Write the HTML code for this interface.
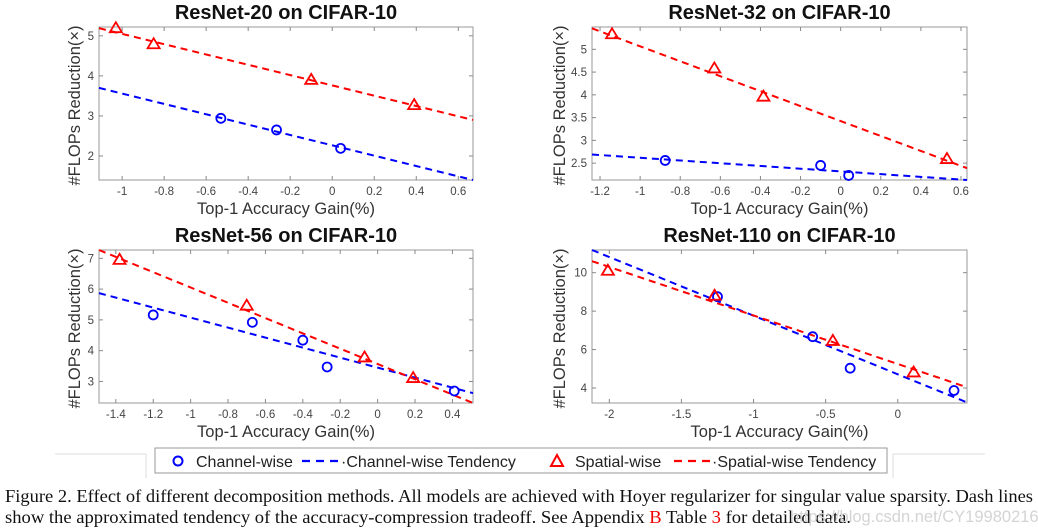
<!DOCTYPE html>
<html><head><meta charset="utf-8"><style>
html,body{margin:0;padding:0;background:#fff;}
svg{display:block;font-family:"Liberation Sans",sans-serif;}
</style></head><body>
<svg id="fig" width="1038" height="532" viewBox="0 0 1038 532" xmlns="http://www.w3.org/2000/svg">
<g id="plots"></g>
<g>
<line x1="55" y1="454" x2="146" y2="454" stroke="#ddd"/><line x1="146" y1="454" x2="146" y2="478" stroke="#ddd"/>
<line x1="893" y1="454" x2="985" y2="454" stroke="#ddd"/><line x1="893" y1="454" x2="893" y2="478" stroke="#ddd"/>
<rect x="155" y="448" width="732" height="25" fill="#fff" stroke="#999" stroke-width="1"/>
<circle cx="178" cy="461" r="4.5" fill="none" stroke="#0000ff" stroke-width="2"/>
<text x="196" y="467" font-size="16" fill="#222">Channel-wise</text>
<line x1="302" y1="461" x2="338" y2="461" stroke="#0000ff" stroke-width="2.2" stroke-dasharray="8,6"/>
<text x="341" y="467" font-size="16" fill="#222">·Channel-wise Tendency</text>
<path d="M557,455 L563,466 L551,466 Z" fill="none" stroke="#ff0000" stroke-width="2"/>
<text x="575" y="467" font-size="16" fill="#222">Spatial-wise</text>
<line x1="674" y1="461" x2="710" y2="461" stroke="#ff0000" stroke-width="2.2" stroke-dasharray="8,6"/>
<text x="712" y="467" font-size="16" fill="#222">·Spatial-wise Tendency</text>
</g>
<g font-family="'Liberation Serif',serif" font-size="18" fill="#111">
<text x="5" y="502" textLength="1028" lengthAdjust="spacingAndGlyphs">Figure 2. Effect of different decomposition methods. All models are achieved with Hoyer regularizer for singular value sparsity. Dash lines</text>
<text x="5" y="523" textLength="846" lengthAdjust="spacingAndGlyphs">show the approximated tendency of the accuracy-compression tradeoff. See Appendix <tspan fill="#e00">B</tspan> Table <tspan fill="#e00">3</tspan> for detailed data.</text>
</g>
<text x="790" y="522" font-size="16.5" fill="#d4d4d4">https://blog.csdn.net/CY19980216</text>
</svg>
<script>
const titles = ["ResNet-20 on CIFAR-10","ResNet-32 on CIFAR-10","ResNet-56 on CIFAR-10","ResNet-110 on CIFAR-10"];
const xDomains = [[-1.11,0.67],[-1.24,0.63],[-1.49,0.51],[-2.12,0.48]];
const yDomains = [[1.40,5.22],[2.13,5.49],[2.30,7.27],[3.22,11.18]];
const xTicks = [[-1,-0.8,-0.6,-0.4,-0.2,0,0.2,0.4,0.6],[-1.2,-1,-0.8,-0.6,-0.4,-0.2,0,0.2,0.4,0.6],[-1.4,-1.2,-1,-0.8,-0.6,-0.4,-0.2,0,0.2,0.4],[-2,-1.5,-1,-0.5,0]];
const yTicks = [[2,3,4,5],[2.5,3,3.5,4,4.5,5],[3,4,5,6,7],[4,6,8,10]];
const channelX = [[-0.53,-0.265,0.04],[-0.875,-0.10,0.04],[-1.20,-0.67,-0.40,-0.27,0.41],[-1.25,-0.59,-0.33,0.39]];
const channelY = [[2.94,2.65,2.19],[2.56,2.45,2.23],[5.16,4.92,4.34,3.47,2.69],[8.75,6.67,5.03,3.87]];
const spatialX = [[-1.03,-0.85,-0.10,0.39],[-1.14,-0.63,-0.385,0.53],[-1.38,-0.70,-0.07,0.19],[-2.01,-1.27,-0.45,0.11]];
const spatialY = [[5.19,4.79,3.90,3.27],[5.33,4.58,3.96,2.59],[6.95,5.46,3.78,3.11],[10.1,8.8,6.45,4.81]];
// tendency lines: value at left and right edge of x-domain
const channelTrendEnds = [[3.70,1.40],[2.69,2.13],[5.87,2.62],[11.18,3.25]];
const spatialTrendEnds = [[5.19,2.90],[5.46,2.39],[7.27,2.30],[10.6,4.04]];

const NS="http://www.w3.org/2000/svg";
const root=document.getElementById('plots');
function mk(tag,attrs,parent){const e=document.createElementNS(NS,tag);for(const k in attrs)e.setAttribute(k,attrs[k]);(parent||root).appendChild(e);return e;}
const boxes=[[99,27,473,180],[592,27,967,180],[99,250,473,403],[592,250,967,403]];
const yTitleX=[78,563,78,563];
for(let i=0;i<4;i++){
  const [L,T,R,B]=boxes[i];
  const g=mk('g',{});
  
  
  const sx=v=>L+(v-xDomains[i][0])/(xDomains[i][1]-xDomains[i][0])*(R-L);
  const sy=v=>B-(v-yDomains[i][0])/(yDomains[i][1]-yDomains[i][0])*(B-T);
  const t=mk('text',{x:(L+R)/2,y:T-8,'text-anchor':'middle','font-size':20,'font-weight':'bold',fill:'#111'},g);
  t.textContent=titles[i];
  
  
  const box=mk('rect',{x:L,y:T,width:R-L,height:B-T,fill:'none',stroke:'#999','stroke-width':1},g);
  
  
  xTicks[i].forEach(v=>{const x=sx(v);
    mk('line',{x1:x,y1:B,x2:x,y2:B-4,stroke:'#888'},g);mk('line',{x1:x,y1:T,x2:x,y2:T+4,stroke:'#888'},g);
    const l=mk('text',{x:x,y:B+15,'text-anchor':'middle','font-size':11.5,fill:'#444'},g);l.textContent=String(v);
    
    });
  yTicks[i].forEach(v=>{const y=sy(v);
    mk('line',{x1:L,y1:y,x2:L+4,y2:y,stroke:'#888'},g);mk('line',{x1:R,y1:y,x2:R-4,y2:y,stroke:'#888'},g);
    const l=mk('text',{x:L-5,y:y+4,'text-anchor':'end','font-size':11.5,fill:'#444'},g);l.textContent=String(v);
    
    });
  const xl=mk('text',{x:(L+R)/2,y:B+34,'text-anchor':'middle','font-size':16.5,fill:'#333'},g);xl.textContent='Top-1 Accuracy Gain(%)';
  
  
  const yl=mk('text',{x:0,y:0,'text-anchor':'middle','font-size':16.5,fill:'#333',transform:`translate(${yTitleX[i]+2},${(T+B)/2+2}) rotate(-90)`},g);yl.textContent='#FLOPs Reduction(×)';
  
  
  const x0=xDomains[i][0],x1=xDomains[i][1];
  const ct=mk('line',{x1:sx(x0),y1:sy(channelTrendEnds[i][0]),x2:sx(x1),y2:sy(channelTrendEnds[i][1]),stroke:'#0000ff','stroke-width':2,'stroke-dasharray':'7,5'},g);
  
  
  const st=mk('line',{x1:sx(x0),y1:sy(spatialTrendEnds[i][0]),x2:sx(x1),y2:sy(spatialTrendEnds[i][1]),stroke:'#ff0000','stroke-width':2,'stroke-dasharray':'7,5'},g);
  
  
  channelX[i].forEach((v,j)=>{
    const c=mk('circle',{cx:sx(v),cy:sy(channelY[i][j]),r:4.5,fill:'none',stroke:'#0000ff','stroke-width':1.8},g);
    
    });
  spatialX[i].forEach((v,j)=>{const x=sx(v),y=sy(spatialY[i][j]);
    const p=mk('path',{d:`M${x},${y-6} L${x+6},${y+4} L${x-6},${y+4} Z`,fill:'none',stroke:'#ff0000','stroke-width':1.8},g);
    
    });
}
</script>
</body></html>
